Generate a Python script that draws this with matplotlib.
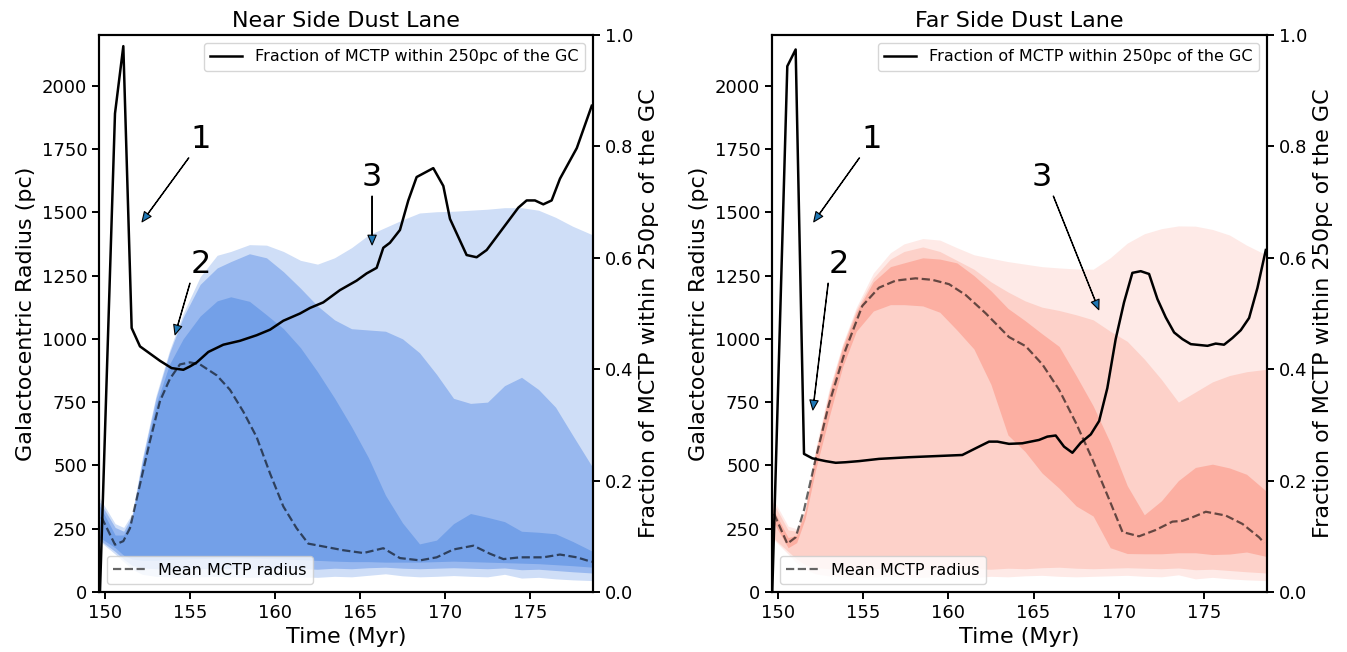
"""
MCTP radius distribution for the near and far side dust lanes.
"""

import numpy as np
import matplotlib
matplotlib.use("Agg")
import matplotlib.pyplot as plt

# =============================================================================
# Data
# =============================================================================

# common time grid for the percentile bands (Myr)
band_t = [149.7, 150.6, 151.1, 151.6, 152.2, 153.0, 153.8, 154.6, 155.6, 156.6,
          157.4, 158.5, 159.5, 160.5, 161.5, 162.5, 163.5, 164.5, 165.5, 166.5,
          167.5, 168.5, 169.5, 170.5, 171.5, 172.5, 173.5, 174.5, 175.5, 176.5,
          177.5, 178.7]

# --- near side ---------------------------------------------------------------
near_light_hi = [370, 270, 255, 310, 530, 775, 955, 1100, 1245, 1330,
                 1345, 1372, 1370, 1345, 1310, 1295, 1320, 1360, 1410, 1440,
                 1470, 1497, 1502, 1504, 1508, 1512, 1518, 1518, 1508, 1480,
                 1445, 1410]
near_light_lo = [200, 150, 120, 90, 70, 62, 60, 58, 60, 62,
                 60, 58, 60, 62, 60, 58, 62, 60, 66, 72,
                 64, 60, 62, 65, 62, 60, 70, 55, 58, 52,
                 48, 45]
near_mid_hi = [355, 255, 240, 300, 520, 765, 945, 1085, 1215, 1280,
               1305, 1336, 1320, 1265, 1200, 1130, 1075, 1040, 1035, 1030,
               1000, 945, 860, 765, 745, 750, 815, 848, 800, 730,
               620, 490]
near_mid_lo = [205, 160, 130, 105, 95, 92, 90, 90, 92, 94,
               92, 90, 92, 94, 92, 90, 94, 92, 96, 98,
               94, 92, 94, 96, 94, 92, 95, 88, 90, 85,
               80, 75]
near_dark_hi = [340, 225, 225, 290, 505, 740, 900, 1000, 1090, 1150,
                1166, 1148, 1095, 1040, 965, 870, 766, 653, 530, 382,
                273, 190, 205, 270, 310, 295, 278, 240, 236, 230,
                200, 160]
near_dark_lo = [215, 175, 145, 130, 125, 125, 128, 130, 132, 134,
                135, 134, 132, 130, 128, 125, 122, 120, 120, 118,
                118, 118, 120, 122, 120, 118, 116, 114, 112, 108,
                104, 98]

near_frac_t = [149.71, 150.59, 151.08, 151.57, 152.06, 152.65, 153.24, 153.92,
               154.61, 155.0, 155.39, 156.08, 156.96, 157.94, 158.92, 159.71,
               160.49, 161.47, 162.06, 162.84, 163.82, 164.8, 165.39, 165.98,
               166.37, 166.76, 167.35, 167.84, 168.33, 169.31, 169.9, 170.29,
               171.27, 171.86, 172.45, 173.43, 174.31, 174.8, 175.29, 175.78,
               176.27, 176.76, 177.75, 178.63]
near_frac = [0.003, 0.859, 0.980, 0.474, 0.441, 0.428, 0.415, 0.402,
             0.399, 0.405, 0.412, 0.431, 0.444, 0.451, 0.461, 0.471,
             0.487, 0.500, 0.510, 0.520, 0.542, 0.559, 0.572, 0.582,
             0.618, 0.627, 0.650, 0.703, 0.745, 0.761, 0.729, 0.670,
             0.605, 0.601, 0.614, 0.654, 0.690, 0.703, 0.703, 0.696,
             0.703, 0.742, 0.797, 0.873]

near_mean_t = [149.8, 150.59, 151.08, 151.47, 152.06, 152.65, 153.24, 153.82,
               154.41, 155.0, 155.59, 156.57, 157.35, 158.14, 158.92, 159.71,
               160.49, 161.27, 161.96, 162.84, 164.02, 165.2, 166.37, 167.35,
               168.53, 169.51, 170.49, 171.67, 172.65, 173.43, 174.41, 175.78,
               176.76, 177.75, 178.63]
near_mean = [295, 187, 201, 252, 425, 597, 755, 842,
             899, 907, 899, 856, 799, 712, 612, 468,
             338, 252, 191, 180, 165, 154, 173, 134,
             125, 137, 168, 183, 151, 130, 137, 137,
             148, 137, 119]

# --- far side ----------------------------------------------------------------
far_light_hi = [370, 260, 250, 335, 565, 800, 980, 1125, 1260, 1340,
                1375, 1396, 1390, 1360, 1332, 1318, 1305, 1295, 1285, 1280,
                1276, 1275, 1320, 1378, 1415, 1435, 1446, 1445, 1432, 1410,
                1370, 1330]
far_light_lo = [210, 150, 115, 90, 72, 64, 60, 58, 60, 62,
                60, 58, 62, 60, 58, 62, 60, 64, 66, 62,
                60, 62, 64, 66, 62, 60, 68, 52, 58, 52,
                48, 45]
far_mid_hi = [355, 245, 240, 320, 550, 790, 975, 1115, 1240, 1315,
              1345, 1363, 1345, 1310, 1275, 1225, 1185, 1150, 1125, 1112,
              1095, 1075, 1030, 990, 920, 840, 750, 790, 830, 855,
              870, 880]
far_mid_lo = [215, 160, 130, 108, 96, 92, 90, 90, 92, 94,
              92, 90, 92, 94, 92, 90, 94, 92, 96, 98,
              94, 92, 94, 96, 94, 92, 95, 88, 90, 85,
              80, 75]
far_dark_hi = [330, 215, 225, 320, 545, 780, 965, 1105, 1225, 1285,
               1300, 1320, 1315, 1300, 1250, 1190, 1120, 1072, 1020, 970,
               855, 735, 590, 420, 305, 360, 440, 492, 505, 490,
               465, 396]
far_dark_lo = [280, 175, 195, 290, 480, 690, 890, 1030, 1110, 1135,
               1135, 1130, 1105, 1035, 960, 820, 620, 555, 470, 410,
               340, 300, 175, 152, 151, 151, 155, 155, 148, 150,
               158, 140]

far_frac_t = [149.67, 150.55, 151.04, 151.53, 152.02, 152.8, 153.39, 153.97,
              154.76, 155.93, 157.69, 159.26, 160.82, 161.6, 162.39, 162.88,
              163.56, 164.34, 165.32, 165.81, 166.3, 166.79, 167.28, 167.77,
              168.36, 168.85, 169.33, 169.82, 170.31, 170.8, 171.29, 171.78,
              172.27, 172.76, 173.25, 173.74, 174.23, 175.21, 175.69, 176.18,
              176.67, 177.16, 177.65, 178.14, 178.63]
far_frac = [0.003, 0.944, 0.974, 0.248, 0.240, 0.235, 0.232, 0.233,
            0.235, 0.239, 0.242, 0.244, 0.246, 0.258, 0.270, 0.270,
            0.266, 0.267, 0.273, 0.279, 0.281, 0.261, 0.250, 0.268,
            0.283, 0.307, 0.366, 0.454, 0.520, 0.573, 0.576, 0.571,
            0.526, 0.493, 0.466, 0.454, 0.445, 0.442, 0.446, 0.444,
            0.456, 0.470, 0.492, 0.546, 0.614]

far_mean_t = [149.77, 150.55, 151.04, 151.53, 152.21, 152.99, 153.97, 154.95,
              155.93, 156.91, 158.08, 159.06, 160.04, 161.02, 162.19, 163.56,
              164.54, 165.52, 166.5, 167.48, 168.45, 169.43, 170.22, 171.19,
              172.17, 173.15, 173.74, 174.32, 175.11, 176.28, 177.26, 178.24,
              178.53]
far_mean = [309, 191, 216, 324, 525, 741, 957, 1130,
            1202, 1230, 1239, 1233, 1216, 1173, 1101, 1007,
            971, 899, 799, 669, 525, 367, 237, 220,
            245, 278, 281, 295, 317, 302, 269, 216,
            194]

# annotation positions: (label, head (t, r), text (t, r))
near_notes = [("1", (152.18, 1462), (155.65, 1787)),
              ("2", (154.12, 1016), (155.65, 1292)),
              ("3", (165.71, 1371), (165.71, 1636))]
far_notes = [("1", (152.10, 1462), (155.50, 1787)),
             ("2", (152.05, 719), (153.57, 1292)),
             ("3", (168.83, 1115), (165.50, 1636))]

NEAR_COLORS = ["#cfdef7", "#98b8ef", "#73a0e8"]
FAR_COLORS = ["#feeae7", "#fdd1c9", "#fcafa2"]

XLIM = (149.65, 178.7)
YLIM = (0, 2200)


# =============================================================================
# Plot
# =============================================================================

def draw_panel(ax, title, bands, colors, mean_t, mean, frac_t, frac, notes):
    for (lo, hi), c in zip(bands, colors):
        ax.fill_between(band_t, lo, hi, color=c, linewidth=0)
    ax.plot(mean_t, mean, color="k", ls="--", lw=1.6, alpha=0.6,
            label="Mean MCTP radius")
    ax.set_xlim(*XLIM)
    ax.set_ylim(*YLIM)
    ax.set_yticks(np.arange(0, 2001, 250))
    ax.set_xticks(np.arange(150, 176, 5))
    ax.set_xlabel("Time (Myr)", fontsize=16)
    ax.set_ylabel("Galactocentric Radius (pc)", fontsize=16)
    ax.set_title(title, fontsize=16)
    ax.tick_params(labelsize=13, width=1.4, length=5)
    for s in ax.spines.values():
        s.set_linewidth(1.5)
    ax.legend(loc="lower left", fontsize=11.5)

    for label, head, text in notes:
        ax.annotate(label, xy=head, xytext=text, fontsize=23,
                    ha="center", va="center",
                    arrowprops=dict(facecolor="#1f77b4", edgecolor="k",
                                    width=0.3, headwidth=6, headlength=7,
                                    lw=0.8, shrink=0.0),
                    zorder=5)

    ax2 = ax.twinx()
    ax2.plot(frac_t, frac, color="k", lw=1.8,
             label="Fraction of MCTP within 250pc of the GC")
    ax2.set_ylim(0, 1)
    ax2.set_ylabel("Fraction of MCTP within 250pc of the GC", fontsize=16)
    ax2.tick_params(labelsize=13, width=1.4, length=5)
    for s in ax2.spines.values():
        s.set_linewidth(1.5)
    ax2.legend(loc="upper right", fontsize=11.5)
    return ax2


fig = plt.figure(figsize=(13.47, 6.52), dpi=100)
ax_near = fig.add_axes([0.0735, 0.092, 0.3667, 0.8543])
ax_far = fig.add_axes([0.5731, 0.092, 0.3675, 0.8543])

draw_panel(ax_near, "Near Side Dust Lane",
           [(near_light_lo, near_light_hi), (near_mid_lo, near_mid_hi),
            (near_dark_lo, near_dark_hi)],
           NEAR_COLORS, near_mean_t, near_mean, near_frac_t, near_frac,
           near_notes)
draw_panel(ax_far, "Far Side Dust Lane",
           [(far_light_lo, far_light_hi), (far_mid_lo, far_mid_hi),
            (far_dark_lo, far_dark_hi)],
           FAR_COLORS, far_mean_t, far_mean, far_frac_t, far_frac,
           far_notes)

fig.savefig("out.png", dpi=100)
